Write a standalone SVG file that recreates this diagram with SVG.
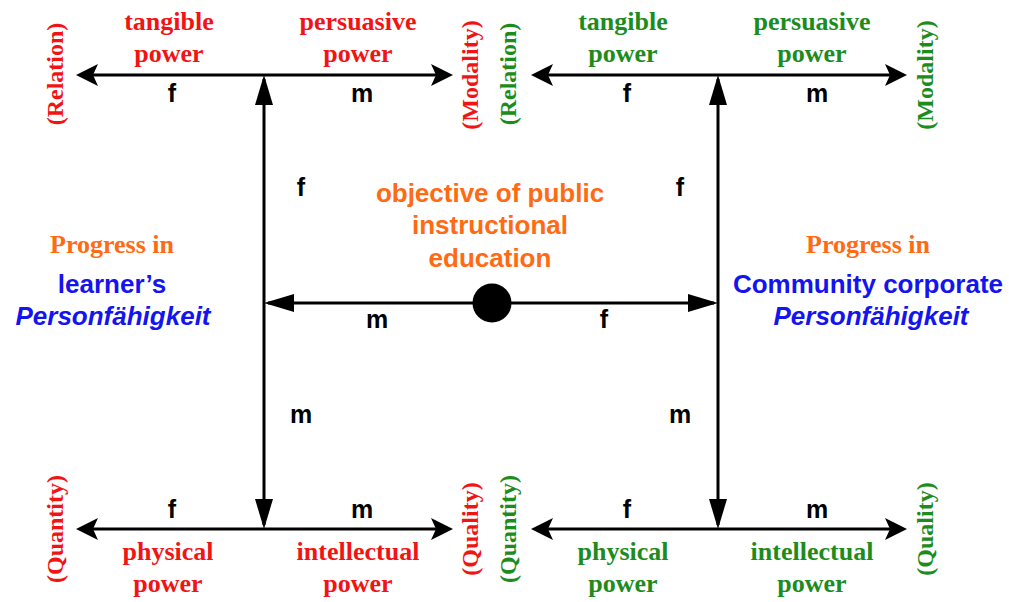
<svg xmlns="http://www.w3.org/2000/svg" width="1009" height="602" viewBox="0 0 1009 602">
<style>
.sans{font-family:"Liberation Sans",Arial,sans-serif;font-weight:bold;text-anchor:middle}
.ser{font-family:"Liberation Serif","Times New Roman",serif;font-weight:bold;text-anchor:middle}
.lab{font-size:25px;fill:#000}
.pw{font-size:26px}
.rot{font-size:24px}
.big{font-size:26px}
.it{font-style:italic}
.red{fill:#F21414}
.grn{fill:#1C8C1C}
.org{fill:#FF6A13}
.blu{fill:#1414F0}
.ln{stroke:#000;stroke-width:3;fill:none}
</style>
<defs>
<marker id="tri" viewBox="0 0 30 18" refX="26" refY="9" markerWidth="30" markerHeight="18" markerUnits="userSpaceOnUse" orient="auto-start-reverse">
<path d="M0,0 L30,9 L0,18 Z" fill="#000"/>
</marker>
<marker id="barb" viewBox="0 0 22 22" refX="18" refY="11" markerWidth="22" markerHeight="22" markerUnits="userSpaceOnUse" orient="auto-start-reverse">
<path d="M0,0 L22,11 L0,22 L5,11 Z" fill="#000"/>
</marker>
</defs>
<rect width="1009" height="602" fill="#fff"/>
<g id="connectors">
<path class="ln" d="M80,75 H449" marker-start="url(#barb)" marker-end="url(#barb)"/>
<path class="ln" d="M80,529 H449" marker-start="url(#barb)" marker-end="url(#barb)"/>
<path class="ln" d="M264,79 V525" marker-start="url(#tri)" marker-end="url(#tri)"/>
<path class="ln" d="M535,75 H903" marker-start="url(#barb)" marker-end="url(#barb)"/>
<path class="ln" d="M535,529 H903" marker-start="url(#barb)" marker-end="url(#barb)"/>
<path class="ln" d="M718,79 V525" marker-start="url(#tri)" marker-end="url(#tri)"/>
<path class="ln" d="M268,303 H714" marker-start="url(#tri)" marker-end="url(#tri)"/>
</g>
<g id="edge-labels" class="sans lab">
<text x="172" y="102">f</text><text x="362" y="102">m</text>
<text x="172" y="518">f</text><text x="362" y="518">m</text>
<text x="627" y="102">f</text><text x="817" y="102">m</text>
<text x="627" y="518">f</text><text x="817" y="518">m</text>
<text x="301" y="196">f</text><text x="301" y="423">m</text>
<text x="680" y="196">f</text><text x="680" y="423">m</text>
<text x="377" y="328">m</text><text x="604" y="328">f</text>
</g>
<g id="center-node">
<circle cx="492" cy="303" r="19.5" fill="#000"/>
<text class="sans big org" x="490" y="202">objective of public</text>
<text class="sans big org" x="490" y="234">instructional</text>
<text class="sans big org" x="490" y="267">education</text>
</g>
<g id="left-powers" class="ser pw red">
<text x="169" y="30">tangible</text><text x="169" y="62">power</text>
<text x="358" y="30">persuasive</text><text x="358" y="62">power</text>
<text x="168" y="560">physical</text><text x="168" y="592">power</text>
<text x="358" y="560">intellectual</text><text x="358" y="592">power</text>
</g>
<g id="right-powers" class="ser pw grn">
<text x="623" y="30">tangible</text><text x="623" y="62">power</text>
<text x="812" y="30">persuasive</text><text x="812" y="62">power</text>
<text x="623" y="560">physical</text><text x="623" y="592">power</text>
<text x="812" y="560">intellectual</text><text x="812" y="592">power</text>
</g>
<g id="left-axes" class="ser rot red">
<text transform="translate(63,74) rotate(-90)">(Relation)</text>
<text transform="translate(478,75) rotate(-90)">(Modality)</text>
<text transform="translate(63,529) rotate(-90)">(Quantity)</text>
<text transform="translate(478,529) rotate(-90)">(Quality)</text>
</g>
<g id="right-axes" class="ser rot grn">
<text transform="translate(516,74) rotate(-90)">(Relation)</text>
<text transform="translate(933,75) rotate(-90)">(Modality)</text>
<text transform="translate(516,529) rotate(-90)">(Quantity)</text>
<text transform="translate(933,529) rotate(-90)">(Quality)</text>
</g>
<g id="left-node">
<text class="ser big org" x="112" y="253">Progress in</text>
<text class="sans big blu" x="112" y="293">learner’s</text>
<text class="sans big blu it" x="113" y="325">Personfähigkeit</text>
</g>
<g id="right-node">
<text class="ser big org" x="868" y="253">Progress in</text>
<text class="sans big blu" x="868" y="293">Community corporate</text>
<text class="sans big blu it" x="871" y="325">Personfähigkeit</text>
</g>
</svg>
